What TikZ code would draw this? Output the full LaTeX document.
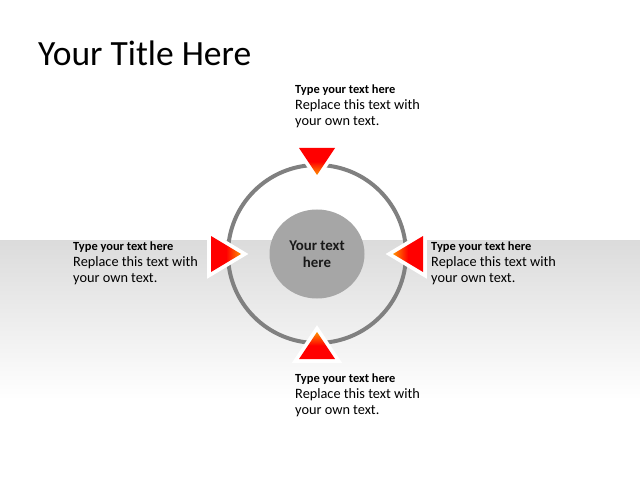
\documentclass[tikz,border=0pt]{standalone}
\usepackage{fontspec}
\setmainfont{Carlito}
\usetikzlibrary{shapes.geometric}

\definecolor{apexorange}{RGB}{255,145,0}
\definecolor{ringgray}{RGB}{128,128,128}
\definecolor{hubgray}{RGB}{166,166,166}

\begin{document}
\begin{tikzpicture}[x=0.03cm,y=-0.03cm,
    every node/.style={inner sep=0pt},
    tri/.style={preaction={draw=white,line width=6.5pt,line join=miter}},
    blurb/.style={anchor=west,align=left,text=black,
      font=\fontsize{12.2}{13.8}\selectfont},
  ]
    \useasboundingbox (0,0) rectangle (640,480);
    \fill[white] (0,0) rectangle (640,480);
    % grey band fading out
    \shade[top color=black!14,bottom color=white] (0,240) rectangle (640,400);

    \draw[ringgray,line width=3.4pt] (317,254) circle (89);

    % the four arrow heads
    \shade[tri,top color=red,bottom color=apexorange,middle color=red]
      (299,148) -- (335,148) -- (317,175) -- cycle;
    \shade[tri,top color=apexorange,bottom color=red,middle color=red]
      (299,359) -- (335,359) -- (317,332) -- cycle;
    \shade[tri,left color=red,right color=apexorange,middle color=red]
      (211,236) -- (211,272) -- (241,254) -- cycle;
    \shade[tri,left color=apexorange,right color=red,middle color=red]
      (423,236) -- (423,272) -- (393,254) -- cycle;

    \node[ellipse,fill=hubgray,minimum width=2.85cm,minimum height=2.67cm,
      align=center,text=black!90,font=\bfseries\fontsize{12.7}{14.6}\selectfont]
      (hub) at (317,254) {Your text\\here};

    \node[anchor=base west,font=\fontsize{30.3}{36}\selectfont] (title) at (38,66) {Your Title Here};

    \node[blurb] (lblTop) at (295,106)
      {{\bfseries\fontsize{10.6}{13.8}\selectfont Type your text here}\\Replace this text with\\your own text.};
    \node[blurb] (lblLeft) at (73,263)
      {{\bfseries\fontsize{10.6}{13.8}\selectfont Type your text here}\\Replace this text with\\your own text.};
    \node[blurb] (lblRight) at (431,263)
      {{\bfseries\fontsize{10.6}{13.8}\selectfont Type your text here}\\Replace this text with\\your own text.};
    \node[blurb] (lblBottom) at (295,395)
      {{\bfseries\fontsize{10.6}{13.8}\selectfont Type your text here}\\Replace this text with\\your own text.};
\end{tikzpicture}
\end{document}
